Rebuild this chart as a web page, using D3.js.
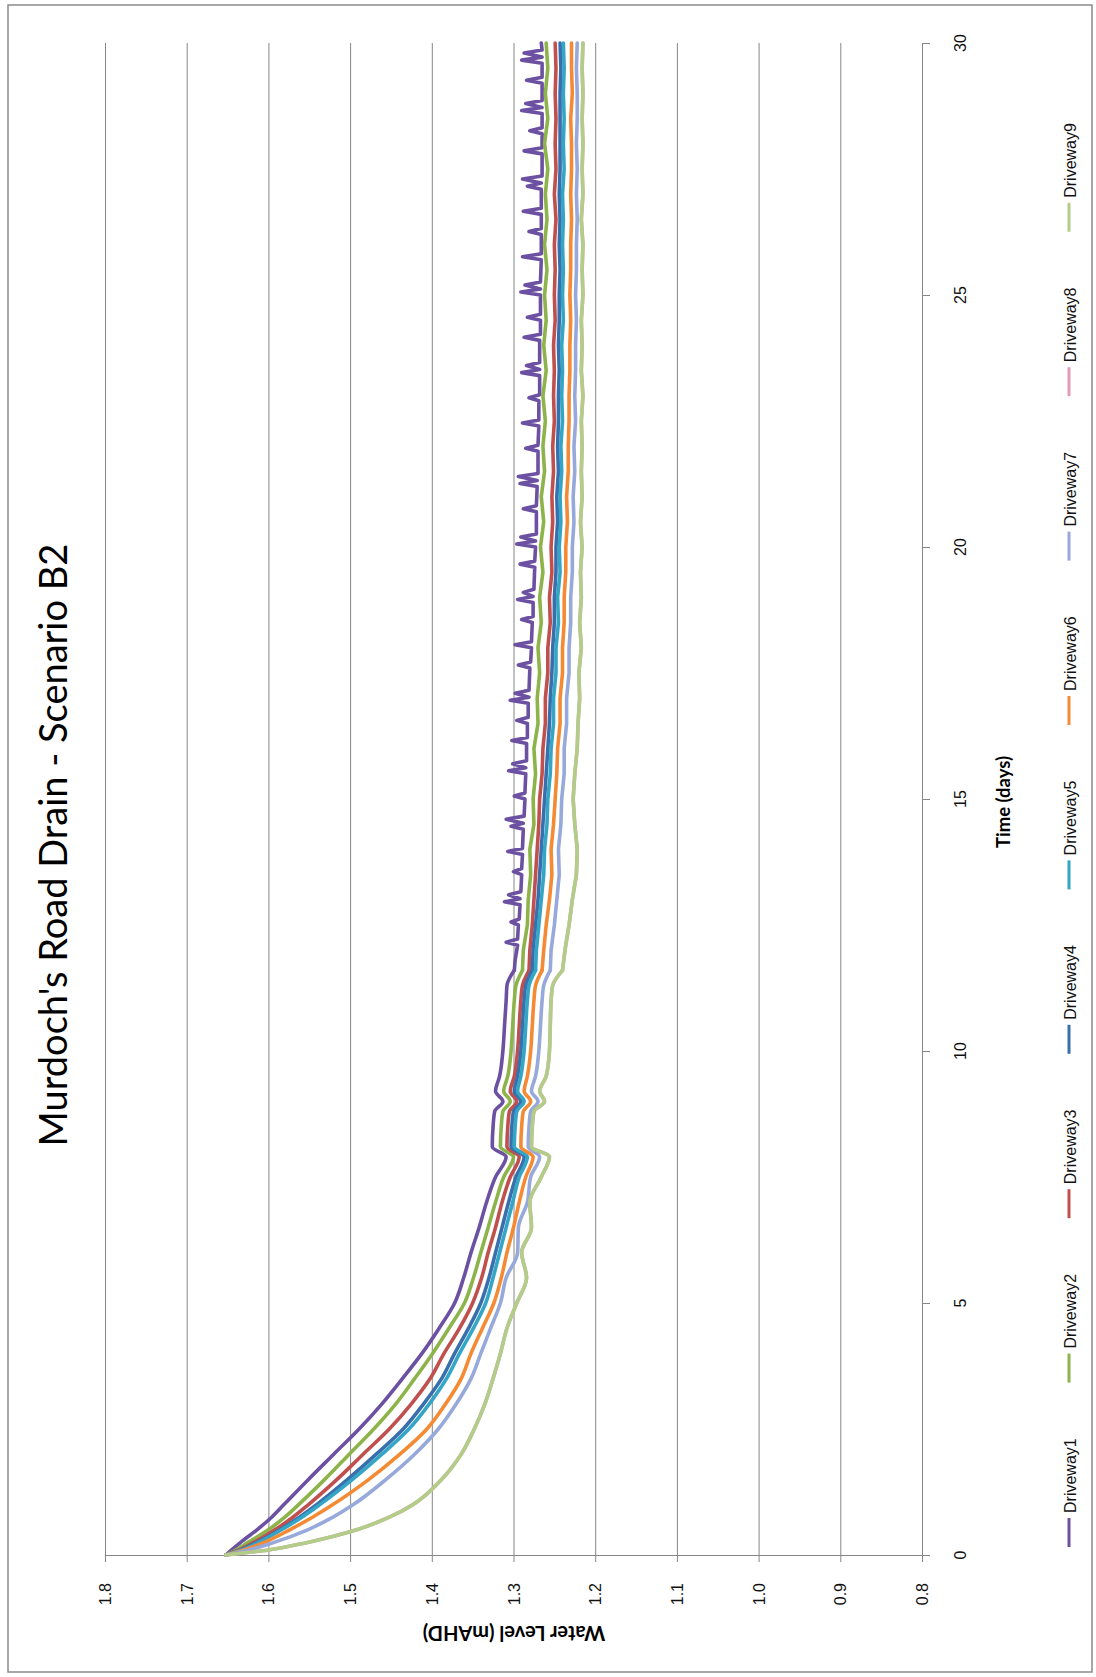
<!DOCTYPE html>
<html>
<head>
<meta charset="utf-8">
<script src="https://cdn.jsdelivr.net/npm/d3@7"></script>
<style>
  body { margin: 0; background: #fff; }
  svg { display: block; }
</style>
</head>
<body>
<div id="chart"></div>
<script>
// Time grids (days)
const timeEarly = [0, 0.1, 0.25, 0.5, 0.75, 1, 1.5, 2, 2.5, 3, 3.5, 4, 4.5, 5, 5.5, 6, 6.5, 7, 7.5, 7.9,
  8.1, 8.5, 8.8, 9, 9.2, 9.5, 10, 10.5, 11, 11.3, 11.6];
const timeTail = [12, 12.5, 13, 13.5, 14, 14.5, 15, 15.5, 16, 16.5, 17, 17.5, 18, 18.5, 19, 19.5, 20, 20.5,
  21, 21.5, 22, 22.5, 23, 23.5, 24, 24.5, 25, 25.5, 26, 26.5, 27, 27.5, 28, 28.5, 29, 29.5, 30];

const seriesNames = ["Driveway1", "Driveway2", "Driveway3", "Driveway4", "Driveway5",
  "Driveway6", "Driveway7", "Driveway8", "Driveway9"];
const seriesColors = ["#6c51a3", "#8db44a", "#c0504d", "#3a6fae", "#35a5c6",
  "#f58a34", "#97a9da", "#e49bb5", "#b1cd88"];

// Water level (mAHD), first 11.6 days
const d1Early = [1.652, 1.645, 1.634, 1.614, 1.596, 1.581, 1.551, 1.520, 1.489, 1.461, 1.436, 1.412, 1.391, 1.372, 1.361,
  1.352, 1.342, 1.333, 1.322, 1.309, 1.326, 1.325, 1.323, 1.313, 1.322, 1.317, 1.313, 1.311, 1.309, 1.308, 1.299];
const d2Early = [1.652, 1.640, 1.625, 1.600, 1.580, 1.563, 1.531, 1.501, 1.471, 1.444, 1.421, 1.399, 1.379, 1.360, 1.349,
  1.340, 1.331, 1.322, 1.312, 1.300, 1.316, 1.315, 1.313, 1.304, 1.312, 1.307, 1.303, 1.301, 1.299, 1.297, 1.289];
const d3Early = [1.652, 1.636, 1.618, 1.592, 1.570, 1.551, 1.516, 1.484, 1.452, 1.425, 1.402, 1.385, 1.366, 1.350, 1.339,
  1.331, 1.322, 1.314, 1.304, 1.293, 1.308, 1.307, 1.305, 1.296, 1.304, 1.299, 1.295, 1.293, 1.291, 1.289, 1.281];
const d4Early = [1.652, 1.634, 1.614, 1.586, 1.562, 1.541, 1.503, 1.468, 1.435, 1.410, 1.388, 1.372, 1.355, 1.340, 1.330,
  1.322, 1.314, 1.306, 1.297, 1.287, 1.303, 1.302, 1.300, 1.291, 1.299, 1.295, 1.291, 1.289, 1.287, 1.285, 1.277];
const d5Early = [1.652, 1.633, 1.612, 1.584, 1.559, 1.537, 1.497, 1.461, 1.428, 1.403, 1.382, 1.366, 1.349, 1.334, 1.325,
  1.317, 1.309, 1.301, 1.293, 1.283, 1.299, 1.298, 1.296, 1.287, 1.295, 1.291, 1.287, 1.285, 1.283, 1.281, 1.273];
const d6Early = [1.652, 1.630, 1.605, 1.574, 1.546, 1.521, 1.477, 1.439, 1.406, 1.383, 1.364, 1.352, 1.338, 1.324, 1.315,
  1.308, 1.300, 1.293, 1.285, 1.276, 1.291, 1.290, 1.288, 1.279, 1.287, 1.283, 1.279, 1.277, 1.275, 1.273, 1.265];
const d7Early = [1.652, 1.624, 1.593, 1.552, 1.521, 1.496, 1.456, 1.421, 1.392, 1.370, 1.352, 1.340, 1.328, 1.316, 1.309,
  1.295, 1.294, 1.283, 1.279, 1.268, 1.282, 1.281, 1.279, 1.270, 1.278, 1.273, 1.269, 1.267, 1.265, 1.263, 1.255];
const d8Early = [1.652, 1.600, 1.552, 1.492, 1.452, 1.423, 1.388, 1.364, 1.348, 1.335, 1.325, 1.316, 1.308, 1.296, 1.284,
  1.290, 1.278, 1.280, 1.266, 1.256, 1.278, 1.277, 1.275, 1.262, 1.268, 1.260, 1.256, 1.255, 1.254, 1.252, 1.240];
const d9Early = [1.652, 1.600, 1.552, 1.492, 1.452, 1.423, 1.388, 1.364, 1.348, 1.335, 1.325, 1.316, 1.308, 1.296, 1.284,
  1.290, 1.278, 1.280, 1.266, 1.256, 1.278, 1.277, 1.275, 1.262, 1.268, 1.260, 1.256, 1.255, 1.254, 1.252, 1.240];

// Driveway1 from day 11.8: [day, level] pairs with its narrow spikes
const d1TailPairs = [
  [11.8, 1.298],
  [12.1, 1.295], [12.16, 1.309], [12.22, 1.295],
  [12.5, 1.294], [12.56, 1.303], [12.62, 1.293],
  [12.9, 1.292], [12.96, 1.311], [13.02, 1.292], [13.1, 1.306], [13.16, 1.291],
  [13.5, 1.290], [13.56, 1.300], [13.62, 1.290],
  [13.9, 1.289], [13.96, 1.307], [14.02, 1.289],
  [14.4, 1.288], [14.46, 1.303], [14.52, 1.288], [14.6, 1.309], [14.66, 1.287],
  [15.0, 1.286], [15.06, 1.299], [15.12, 1.286],
  [15.5, 1.285], [15.56, 1.306], [15.62, 1.285], [15.7, 1.301], [15.76, 1.284],
  [16.1, 1.284], [16.16, 1.302], [16.22, 1.283],
  [16.5, 1.283], [16.56, 1.296], [16.62, 1.282],
  [16.9, 1.282], [16.96, 1.304], [17.02, 1.281], [17.1, 1.298], [17.16, 1.281],
  [17.6, 1.280], [17.66, 1.294], [17.72, 1.279],
  [18.0, 1.278], [18.06, 1.298], [18.12, 1.278],
  [18.5, 1.277], [18.56, 1.290], [18.62, 1.276],
  [18.9, 1.276], [18.96, 1.295], [19.02, 1.276], [19.1, 1.288], [19.16, 1.275],
  [19.6, 1.274], [19.66, 1.292], [19.72, 1.274],
  [20.0, 1.273], [20.06, 1.296], [20.12, 1.273], [20.2, 1.291], [20.26, 1.272],
  [20.7, 1.272], [20.76, 1.288], [20.82, 1.272],
  [21.2, 1.271], [21.26, 1.292], [21.32, 1.271], [21.4, 1.294], [21.46, 1.270],
  [21.9, 1.270], [21.96, 1.285], [22.02, 1.270],
  [22.4, 1.269], [22.46, 1.289], [22.52, 1.269],
  [22.9, 1.269], [22.96, 1.281], [23.02, 1.268],
  [23.4, 1.268], [23.46, 1.290], [23.52, 1.268], [23.6, 1.284], [23.66, 1.268],
  [24.1, 1.268], [24.16, 1.287], [24.22, 1.267],
  [24.5, 1.267], [24.56, 1.283], [24.62, 1.267],
  [25.0, 1.267], [25.06, 1.291], [25.12, 1.267], [25.2, 1.286], [25.26, 1.267],
  [25.7, 1.266], [25.76, 1.289], [25.82, 1.266],
  [26.2, 1.266], [26.26, 1.281], [26.32, 1.266],
  [26.6, 1.266], [26.66, 1.288], [26.72, 1.266],
  [27.1, 1.266], [27.16, 1.283], [27.22, 1.266], [27.3, 1.289], [27.36, 1.265],
  [27.8, 1.265], [27.86, 1.287], [27.92, 1.265],
  [28.2, 1.265], [28.26, 1.280], [28.32, 1.265],
  [28.6, 1.265], [28.66, 1.290], [28.72, 1.265], [28.8, 1.285], [28.86, 1.265],
  [29.2, 1.265], [29.26, 1.284], [29.32, 1.265],
  [29.6, 1.265], [29.66, 1.290], [29.72, 1.265], [29.8, 1.287], [29.86, 1.265],
  [30.0, 1.266]
];

// Water level (mAHD), day 12 to 30 on the half-day grid
const d2Tail = [1.288, 1.283, 1.282, 1.279, 1.280, 1.275, 1.276, 1.273, 1.275, 1.270, 1.271, 1.268, 1.270, 1.266, 1.268,
  1.264, 1.267, 1.263, 1.266, 1.262, 1.264, 1.261, 1.264, 1.260, 1.263, 1.260, 1.262, 1.259, 1.262, 1.259, 1.261,
  1.258, 1.262, 1.258, 1.261, 1.258, 1.260];
const d3Tail = [1.280, 1.277, 1.275, 1.273, 1.271, 1.269, 1.268, 1.265, 1.264, 1.261, 1.261, 1.258, 1.258, 1.255, 1.256,
  1.253, 1.254, 1.252, 1.253, 1.251, 1.252, 1.250, 1.251, 1.250, 1.251, 1.249, 1.250, 1.249, 1.250, 1.248, 1.250,
  1.248, 1.249, 1.248, 1.249, 1.248, 1.249];
const d4Tail = [1.276, 1.273, 1.270, 1.268, 1.266, 1.264, 1.262, 1.260, 1.258, 1.256, 1.255, 1.253, 1.252, 1.250, 1.250,
  1.248, 1.248, 1.246, 1.247, 1.245, 1.246, 1.245, 1.245, 1.244, 1.245, 1.244, 1.244, 1.243, 1.244, 1.243, 1.244,
  1.243, 1.243, 1.243, 1.243, 1.242, 1.243];
const d5Tail = [1.272, 1.269, 1.266, 1.263, 1.262, 1.259, 1.258, 1.255, 1.254, 1.251, 1.251, 1.248, 1.248, 1.245, 1.246,
  1.243, 1.244, 1.242, 1.243, 1.241, 1.242, 1.240, 1.241, 1.240, 1.241, 1.239, 1.240, 1.239, 1.240, 1.239, 1.240,
  1.238, 1.239, 1.238, 1.239, 1.238, 1.239];
const d6Tail = [1.263, 1.260, 1.256, 1.253, 1.254, 1.251, 1.249, 1.247, 1.246, 1.243, 1.243, 1.240, 1.240, 1.238, 1.238,
  1.236, 1.236, 1.234, 1.235, 1.233, 1.233, 1.232, 1.232, 1.231, 1.231, 1.230, 1.231, 1.230, 1.230, 1.229, 1.230,
  1.229, 1.229, 1.230, 1.228, 1.229, 1.229];
const d7Tail = [1.254, 1.250, 1.247, 1.244, 1.245, 1.242, 1.241, 1.238, 1.238, 1.235, 1.235, 1.232, 1.232, 1.230, 1.230,
  1.228, 1.228, 1.226, 1.227, 1.225, 1.226, 1.224, 1.225, 1.224, 1.224, 1.223, 1.224, 1.223, 1.223, 1.222, 1.223,
  1.222, 1.223, 1.222, 1.222, 1.223, 1.222];
const d8Tail = [1.237, 1.232, 1.228, 1.223, 1.222, 1.225, 1.227, 1.225, 1.222, 1.221, 1.219, 1.220, 1.217, 1.219, 1.217,
  1.218, 1.216, 1.218, 1.216, 1.217, 1.216, 1.217, 1.215, 1.217, 1.216, 1.217, 1.215, 1.216, 1.215, 1.217, 1.215,
  1.216, 1.215, 1.216, 1.215, 1.216, 1.215];
const d9Tail = [1.237, 1.232, 1.228, 1.223, 1.222, 1.225, 1.227, 1.225, 1.222, 1.221, 1.219, 1.220, 1.217, 1.219, 1.217,
  1.218, 1.216, 1.218, 1.216, 1.217, 1.216, 1.217, 1.215, 1.217, 1.216, 1.217, 1.215, 1.216, 1.215, 1.217, 1.215,
  1.216, 1.215, 1.216, 1.215, 1.216, 1.215];

const timeTicks = [0, 5, 10, 15, 20, 25, 30];
const levelTicks = [0.8, 0.9, 1.0, 1.1, 1.2, 1.3, 1.4, 1.5, 1.6, 1.7, 1.8];

const earlyValues = [d1Early, d2Early, d3Early, d4Early, d5Early, d6Early, d7Early, d8Early, d9Early];
const tailValues = [null, d2Tail, d3Tail, d4Tail, d5Tail, d6Tail, d7Tail, d8Tail, d9Tail];

const series = seriesNames.map((name, i) => {
  const early = timeEarly.map((t, j) => ({ t, v: earlyValues[i][j] }));
  const tail = i === 0
    ? d1TailPairs.map(([t, v]) => ({ t, v }))
    : timeTail.map((t, j) => ({ t, v: tailValues[i][j] }));
  return { name, color: seriesColors[i], early, tail: [early[early.length - 1]].concat(tail) };
});

const width = 1096;
const height = 1677;
const plot = { left: 105, right: 922, top: 43, bottom: 1555 };
const axisColor = "#868686";

const svg = d3.select("#chart")
  .append("svg")
  .attr("width", width)
  .attr("height", height);

// outer chart border
svg.append("rect")
  .attr("x", 8).attr("y", 5)
  .attr("width", width - 12).attr("height", height - 10)
  .attr("fill", "none")
  .attr("stroke", "#8a8a8a")
  .attr("stroke-width", 1.5);

// The chart is turned a quarter turn: time runs bottom -> top, level runs right -> left
const y = d3.scaleLinear().domain([0, 30]).range([plot.bottom, plot.top]);
const x = d3.scaleLinear().domain([0.8, 1.8]).range([plot.right, plot.left]);

// Gridlines
svg.append("g")
  .attr("transform", `translate(0,${plot.bottom})`)
  .call(d3.axisBottom(x).tickValues(levelTicks.slice(1)).tickSize(-(plot.bottom - plot.top)).tickFormat(""))
  .call(g => g.select(".domain").remove())
  .call(g => g.selectAll("line").attr("stroke", axisColor));

// Level axis (along the bottom)
svg.append("g")
  .attr("transform", `translate(0,${plot.bottom})`)
  .call(d3.axisBottom(x).tickValues(levelTicks).tickSize(7).tickSizeOuter(0).tickFormat(""))
  .call(g => g.select(".domain").attr("stroke", axisColor))
  .call(g => g.selectAll("line").attr("stroke", axisColor));

svg.append("g")
  .selectAll("text")
  .data(levelTicks)
  .join("text")
  .attr("transform", d => `translate(${x(d) + 6},${plot.bottom + 28}) rotate(-90)`)
  .attr("text-anchor", "end")
  .style("font-family", "'Liberation Sans', Arial, sans-serif")
  .style("font-size", "16px")
  .style("fill", "#111")
  .text(d => d3.format(".1f")(d));

// Time axis (along the right)
svg.append("g")
  .attr("transform", `translate(${plot.right},0)`)
  .call(d3.axisRight(y).tickValues(timeTicks).tickSize(8).tickSizeOuter(0).tickFormat(""))
  .call(g => g.select(".domain").attr("stroke", axisColor))
  .call(g => g.selectAll("line").attr("stroke", axisColor));

svg.append("g")
  .selectAll("text")
  .data(timeTicks)
  .join("text")
  .attr("transform", d => `translate(${plot.right + 44},${y(d)}) rotate(-90)`)
  .attr("text-anchor", "middle")
  .style("font-family", "'Liberation Sans', Arial, sans-serif")
  .style("font-size", "16px")
  .style("fill", "#111")
  .text(d => d);

// Lines: smooth decay, then the raw noisy tail
const smoothLine = d3.line()
  .x(d => x(d.v))
  .y(d => y(d.t))
  .curve(d3.curveMonotoneY);

const rawLine = d3.line()
  .x(d => x(d.v))
  .y(d => y(d.t));

const lines = svg.append("g")
  .selectAll("g")
  .data(series)
  .join("g")
  .attr("fill", "none")
  .attr("stroke", d => d.color)
  .attr("stroke-width", 3.6)
  .attr("stroke-linejoin", "round")
  .attr("stroke-linecap", "round");

lines.append("path").attr("d", d => smoothLine(d.early));
lines.append("path").attr("d", d => rawLine(d.tail));

// Title
svg.append("text")
  .attr("transform", "translate(67,845) rotate(-90)")
  .attr("text-anchor", "middle")
  .style("font-family", "Lato, 'Open Sans', sans-serif")
  .style("font-size", "38px")
  .style("fill", "#000")
  .text("Murdoch's Road Drain - Scenario B2");

// Axis titles
svg.append("text")
  .attr("transform", "translate(1010,802) rotate(-90)")
  .attr("text-anchor", "middle")
  .style("font-family", "Lato, 'Open Sans', sans-serif")
  .style("font-weight", "bold")
  .style("font-size", "18.5px")
  .style("fill", "#000")
  .text("Time (days)");

svg.append("text")
  .attr("transform", "translate(514,1626) rotate(180)")
  .attr("text-anchor", "middle")
  .style("font-family", "Lato, 'Open Sans', sans-serif")
  .style("font-weight", "bold")
  .style("font-size", "20px")
  .style("fill", "#000")
  .text("Water Level (mAHD)");

// Legend (runs bottom -> top)
const legendStart = 1513;
const legendStep = 164.4;
const legend = svg.append("g")
  .selectAll("g")
  .data(series)
  .join("g")
  .attr("transform", (d, i) => `translate(1069,${legendStart - i * legendStep})`);

legend.append("line")
  .attr("x1", 0).attr("x2", 0)
  .attr("y1", 5).attr("y2", 34)
  .attr("stroke", d => d.color)
  .attr("stroke-width", 3);

legend.append("text")
  .attr("transform", "translate(7,0) rotate(-90)")
  .attr("text-anchor", "start")
  .style("font-family", "'Liberation Sans', Arial, sans-serif")
  .style("font-size", "16px")
  .style("fill", "#111")
  .text(d => d.name);
</script>
</body>
</html>
